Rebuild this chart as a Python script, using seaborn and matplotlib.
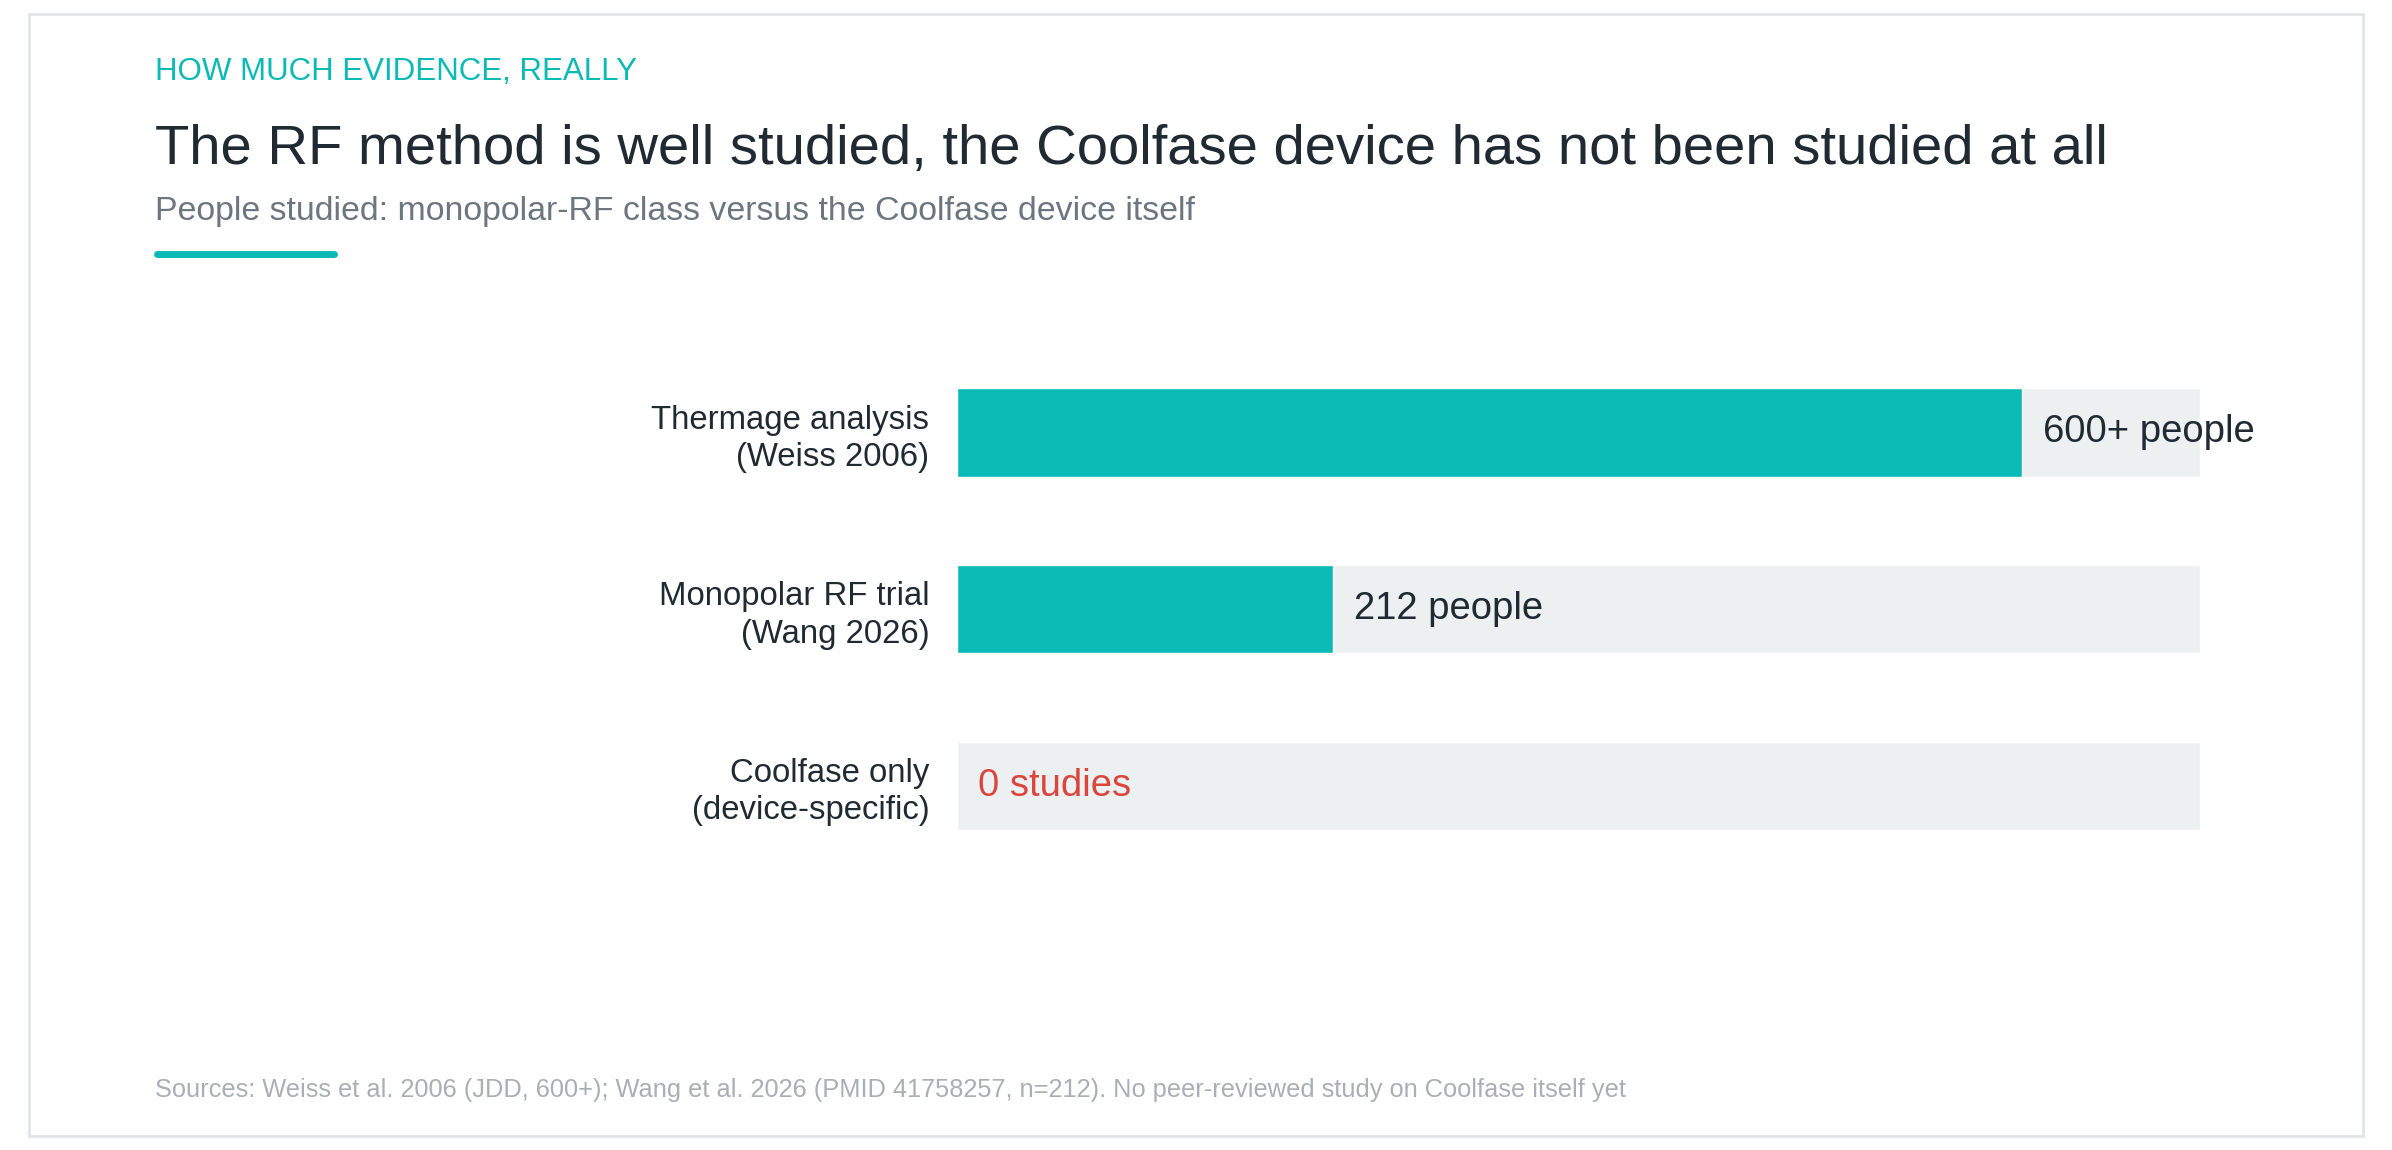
"""
Evidence chart: people studied, RF class vs the Coolfase device.
"""

import matplotlib
matplotlib.use("Agg")
import matplotlib.pyplot as plt
from matplotlib.lines import Line2D
from matplotlib.patches import Rectangle
import pandas as pd
import seaborn as sns

categories = ["Thermage analysis\n(Weiss 2006)",
              "Monopolar RF trial\n(Wang 2026)",
              "Coolfase only\n(device-specific)"]
people = [600, 212, 0]
value_labels = ["600+ people", "212 people", "0 studies"]
scale_max = 700

TEAL = "#0bbab5"
TRACK = "#edf0f1"
DARK = "#1f2a33"
GREY = "#6b7680"
LIGHT = "#a9afb5"
RED = "#d9463e"

W, H = 2392, 1150

sns.set_theme(style="white")
plt.rcParams['font.family'] = ['Liberation Sans', 'DejaVu Sans']

df = pd.DataFrame({"category": categories, "people": people,
                   "track": [scale_max] * len(categories)})

fig = plt.figure(figsize=(W / 100, H / 100), dpi=100)
fig.patch.set_facecolor("white")
ax = fig.add_axes([957 / W, 1 - 874 / H, (2200 - 957) / W, (874 - 344) / H])

sns.barplot(data=df, x="track", y="category", color=TRACK, width=0.5,
            saturation=1, ax=ax)
sns.barplot(data=df, x="people", y="category", color=TEAL, width=0.5,
            saturation=1, ax=ax)

ax.set_xlim(0, scale_max)
ax.set_ylim(2.5, -0.5)
ax.set_xlabel("")
ax.set_ylabel("")
ax.set_xticks([])
sns.despine(ax=ax, left=True, bottom=True)
ax.tick_params(axis="y", length=0, pad=20, labelsize=23.7, labelcolor=DARK)
for t in ax.get_yticklabels():
    t.set_linespacing(1.25)

for i, (v, lab) in enumerate(zip(people, value_labels)):
    col = RED if v == 0 else DARK
    ax.annotate(lab, (v, i), xytext=(15, 0), textcoords="offset points",
                va="center", ha="left", fontsize=27.5, color=col)

# header
fig.text(155 / W, 1 - 80 / H, "HOW MUCH EVIDENCE, REALLY", color=TEAL,
         fontsize=22.5, va="baseline")
fig.text(155 / W, 1 - 164 / H,
         "The RF method is well studied, the Coolfase device has not been studied at all",
         color=DARK, fontsize=40.5, va="baseline")
fig.text(155 / W, 1 - 220 / H,
         "People studied: monopolar-RF class versus the Coolfase device itself",
         color=GREY, fontsize=24.4, va="baseline")
fig.add_artist(Line2D([157 / W, 334 / W], [1 - 253.5 / H, 1 - 253.5 / H],
                      transform=fig.transFigure, color=TEAL, lw=5,
                      solid_capstyle="round"))

fig.text(155 / W, 1 - 1097 / H,
         "Sources: Weiss et al. 2006 (JDD, 600+); Wang et al. 2026 (PMID 41758257, n=212). "
         "No peer-reviewed study on Coolfase itself yet",
         color=LIGHT, fontsize=18.3, va="baseline")

# card border
fig.add_artist(Rectangle((29 / W, 1 - 1136 / H), (2363 - 29) / W, (1136 - 14) / H,
                         transform=fig.transFigure, fill=False,
                         edgecolor="#e2e5e8", lw=2))

fig.savefig("out.png", dpi=100, facecolor="white")
plt.close(fig)
